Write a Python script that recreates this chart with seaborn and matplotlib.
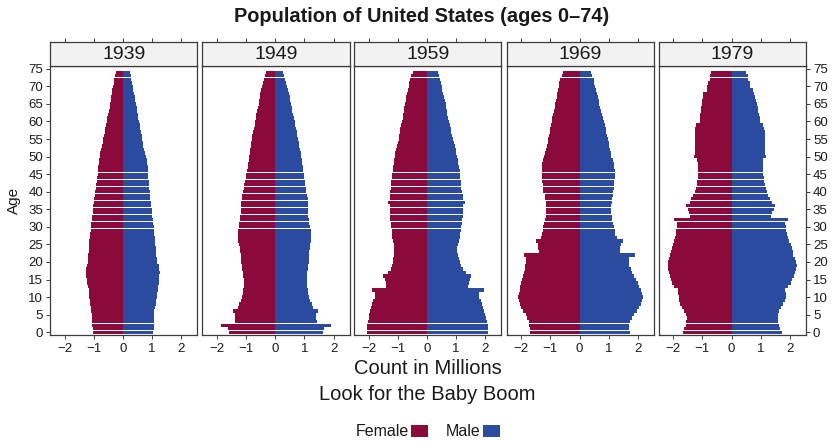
import matplotlib
matplotlib.use("Agg")
import matplotlib.pyplot as plt
import pandas as pd
import seaborn as sns
from matplotlib.patches import Patch

# ---- data: population in millions by single year of age (0-74) ----
years = [1939, 1949, 1959, 1969, 1979]
ages = list(range(75))

female_1939 = [1.01, 1.04, 1.06, 1.07, 1.06, 1.07, 1.09, 1.10, 1.12, 1.14,
               1.15, 1.17, 1.18, 1.20, 1.22, 1.24, 1.25, 1.26, 1.25, 1.24,
               1.21, 1.20, 1.19, 1.18, 1.17, 1.17, 1.15, 1.14, 1.13, 1.11,
               1.10, 1.08, 1.07, 1.05, 1.04, 1.03, 1.01, 0.99, 0.98, 0.96,
               0.95, 0.93, 0.91, 0.90, 0.88, 0.87, 0.86, 0.85, 0.83, 0.82,
               0.80, 0.77, 0.74, 0.72, 0.69, 0.67, 0.65, 0.62, 0.60, 0.57,
               0.55, 0.53, 0.51, 0.48, 0.46, 0.44, 0.42, 0.40, 0.38, 0.36,
               0.34, 0.31, 0.29, 0.26, 0.23]
male_1939 = [1.03, 1.06, 1.08, 1.07, 1.06, 1.06, 1.08, 1.10, 1.12, 1.14,
             1.17, 1.18, 1.20, 1.21, 1.22, 1.23, 1.25, 1.26, 1.25, 1.22,
             1.17, 1.16, 1.15, 1.14, 1.12, 1.11, 1.10, 1.09, 1.08, 1.07,
             1.06, 1.04, 1.03, 1.01, 1.00, 0.98, 0.97, 0.96, 0.94, 0.93,
             0.92, 0.91, 0.90, 0.89, 0.87, 0.86, 0.86, 0.85, 0.84, 0.82,
             0.80, 0.76, 0.73, 0.70, 0.68, 0.66, 0.64, 0.61, 0.59, 0.57,
             0.56, 0.53, 0.51, 0.49, 0.47, 0.46, 0.43, 0.41, 0.39, 0.36,
             0.34, 0.31, 0.29, 0.26, 0.23]

female_1949 = [1.59, 1.63, 1.86, 1.39, 1.38, 1.37, 1.44, 1.27, 1.24, 1.17,
               1.14, 1.12, 1.09, 1.08, 1.08, 1.08, 1.10, 1.12, 1.14, 1.15,
               1.16, 1.17, 1.18, 1.20, 1.22, 1.24, 1.27, 1.29, 1.28, 1.26,
               1.24, 1.23, 1.22, 1.20, 1.19, 1.18, 1.18, 1.17, 1.15, 1.13,
               1.10, 1.08, 1.06, 1.03, 1.01, 0.99, 0.97, 0.95, 0.93, 0.91,
               0.90, 0.88, 0.86, 0.84, 0.82, 0.80, 0.78, 0.76, 0.73, 0.71,
               0.69, 0.67, 0.65, 0.62, 0.60, 0.57, 0.55, 0.53, 0.51, 0.48,
               0.46, 0.43, 0.40, 0.36, 0.32]
male_1949 = [1.63, 1.67, 1.90, 1.42, 1.41, 1.40, 1.48, 1.30, 1.26, 1.20,
             1.16, 1.13, 1.11, 1.09, 1.08, 1.08, 1.09, 1.10, 1.12, 1.14,
             1.15, 1.16, 1.16, 1.17, 1.18, 1.20, 1.22, 1.23, 1.23, 1.21,
             1.18, 1.17, 1.15, 1.14, 1.13, 1.13, 1.13, 1.13, 1.11, 1.09,
             1.07, 1.05, 1.03, 1.01, 0.99, 0.98, 0.96, 0.94, 0.92, 0.91,
             0.90, 0.88, 0.85, 0.83, 0.80, 0.78, 0.76, 0.74, 0.71, 0.69,
             0.67, 0.64, 0.62, 0.59, 0.57, 0.54, 0.52, 0.49, 0.47, 0.44,
             0.40, 0.38, 0.35, 0.31, 0.28]

female_1959 = [2.05, 2.05, 2.04, 2.02, 2.00, 1.98, 1.95, 1.92, 1.88, 1.84,
               1.78, 1.77, 1.90, 1.41, 1.42, 1.44, 1.49, 1.32, 1.23, 1.21,
               1.16, 1.15, 1.14, 1.14, 1.13, 1.14, 1.17, 1.19, 1.20, 1.21,
               1.22, 1.24, 1.25, 1.26, 1.27, 1.28, 1.28, 1.34, 1.28, 1.27,
               1.25, 1.24, 1.23, 1.22, 1.20, 1.19, 1.18, 1.16, 1.14, 1.12,
               1.10, 1.08, 1.05, 1.02, 0.99, 0.97, 0.95, 0.93, 0.91, 0.89,
               0.86, 0.83, 0.81, 0.79, 0.77, 0.75, 0.73, 0.71, 0.69, 0.66,
               0.63, 0.60, 0.57, 0.53, 0.47]
male_1959 = [2.10, 2.10, 2.08, 2.05, 2.02, 2.00, 1.97, 1.93, 1.88, 1.84,
             1.80, 1.79, 1.94, 1.42, 1.44, 1.46, 1.51, 1.33, 1.22, 1.18,
             1.12, 1.09, 1.06, 1.03, 1.04, 1.07, 1.10, 1.13, 1.15, 1.17,
             1.18, 1.19, 1.21, 1.22, 1.23, 1.24, 1.24, 1.31, 1.25, 1.22,
             1.19, 1.18, 1.17, 1.16, 1.14, 1.13, 1.12, 1.10, 1.08, 1.06,
             1.04, 1.01, 0.98, 0.95, 0.92, 0.90, 0.87, 0.84, 0.81, 0.78,
             0.75, 0.73, 0.70, 0.68, 0.66, 0.64, 0.61, 0.58, 0.56, 0.53,
             0.50, 0.47, 0.45, 0.42, 0.37]

female_1969 = [1.70, 1.71, 1.72, 1.75, 1.80, 1.85, 1.95, 2.00, 2.04, 2.08,
               2.10, 2.09, 2.06, 2.03, 2.00, 1.98, 1.95, 1.92, 1.88, 1.86,
               1.84, 1.83, 1.91, 1.40, 1.41, 1.44, 1.49, 1.33, 1.28, 1.26,
               1.24, 1.21, 1.19, 1.16, 1.15, 1.15, 1.14, 1.15, 1.17, 1.20,
               1.24, 1.26, 1.27, 1.28, 1.29, 1.29, 1.29, 1.29, 1.28, 1.25,
               1.21, 1.19, 1.16, 1.13, 1.10, 1.07, 1.05, 1.03, 1.00, 0.97,
               0.95, 0.93, 0.91, 0.88, 0.86, 0.84, 0.81, 0.79, 0.77, 0.74,
               0.72, 0.69, 0.66, 0.62, 0.57]
male_1969 = [1.73, 1.71, 1.69, 1.72, 1.78, 1.85, 1.96, 2.03, 2.09, 2.14,
             2.18, 2.15, 2.11, 2.05, 2.00, 1.95, 1.88, 1.81, 1.75, 1.71,
             1.69, 1.70, 1.90, 1.37, 1.39, 1.43, 1.49, 1.28, 1.23, 1.20,
             1.17, 1.14, 1.12, 1.10, 1.09, 1.09, 1.09, 1.10, 1.12, 1.14,
             1.15, 1.17, 1.18, 1.19, 1.20, 1.20, 1.20, 1.19, 1.17, 1.13,
             1.09, 1.07, 1.05, 1.02, 1.00, 0.98, 0.95, 0.92, 0.89, 0.86,
             0.83, 0.80, 0.77, 0.74, 0.71, 0.68, 0.65, 0.62, 0.60, 0.57,
             0.54, 0.51, 0.48, 0.44, 0.40]

female_1979 = [1.67, 1.62, 1.58, 1.55, 1.54, 1.57, 1.62, 1.69, 1.76, 1.80,
               1.82, 1.83, 1.84, 1.96, 2.03, 2.08, 2.12, 2.15, 2.17, 2.19,
               2.18, 2.14, 2.10, 2.07, 2.05, 2.02, 1.98, 1.95, 1.91, 1.89,
               1.88, 1.87, 1.99, 1.43, 1.46, 1.49, 1.56, 1.44, 1.38, 1.32,
               1.27, 1.23, 1.20, 1.18, 1.16, 1.15, 1.15, 1.16, 1.15, 1.17,
               1.28, 1.24, 1.25, 1.25, 1.26, 1.25, 1.26, 1.25, 1.25, 1.23,
               1.10, 1.09, 1.08, 1.06, 1.04, 1.02, 1.01, 0.99, 0.97, 0.85,
               0.83, 0.82, 0.74, 0.73, 0.72]
male_1979 = [1.74, 1.67, 1.63, 1.60, 1.58, 1.60, 1.63, 1.68, 1.75, 1.83,
             1.86, 1.85, 1.83, 1.93, 2.02, 2.08, 2.13, 2.17, 2.20, 2.24,
             2.22, 2.17, 2.12, 2.09, 2.07, 2.03, 1.97, 1.93, 1.89, 1.87,
             1.85, 1.84, 1.93, 1.36, 1.40, 1.45, 1.50, 1.37, 1.31, 1.25,
             1.20, 1.17, 1.14, 1.11, 1.10, 1.09, 1.08, 1.08, 1.08, 1.09,
             1.17, 1.13, 1.14, 1.14, 1.15, 1.14, 1.14, 1.13, 1.12, 1.09,
             0.97, 0.96, 0.94, 0.92, 0.89, 0.86, 0.83, 0.80, 0.76, 0.74,
             0.63, 0.62, 0.57, 0.55, 0.49]

female = [female_1939, female_1949, female_1959, female_1969, female_1979]
male = [male_1939, male_1949, male_1959, male_1969, male_1979]

x_ticks = [-2, -1, 0, 1, 2]
x_tick_labels = ["\u22122", "\u22121", "0", "1", "2"]
age_ticks = list(range(0, 76, 5))

# ---- long table: females plotted to the left (negative counts) ----
rows = []
for yr, fvals, mvals in zip(years, female, male):
    for a, fv, mv in zip(ages, fvals, mvals):
        rows.append((yr, a, "Female", -fv))
        rows.append((yr, a, "Male", mv))
df = pd.DataFrame(rows, columns=["year", "age", "sex", "count"])

sns.set_theme(style="white")
plt.rcParams["font.family"] = ["Liberation Sans", "DejaVu Sans"]

FEMALE = "#8B0A3C"
MALE = "#2A4B9F"
FRAME = "#3C3C3C"
TEXT = "#1A1A1A"

W, H = 832, 441
fig = plt.figure(figsize=(W / 100, H / 100), dpi=100)


def fx(px):
    return px / W


def fy(py):
    return 1 - py / H


panel_left = [50, 202.3, 354, 506.7, 658.7]
panel_w = 147.3
strip_top, strip_bot, plot_bot = 42.3, 66.0, 335.0
xlim = (-2.5, 2.55)

for i, yr in enumerate(years):
    x0 = panel_left[i]
    ax = fig.add_axes([fx(x0), fy(plot_bot), panel_w / W,
                       (plot_bot - strip_bot) / H])
    sub = df[df["year"] == yr]
    sns.barplot(data=sub, x="count", y="age", hue="sex", orient="h",
                native_scale=True, dodge=False, width=0.94, saturation=1,
                palette={"Female": FEMALE, "Male": MALE},
                linewidth=0, errorbar=None, legend=False, ax=ax)
    ax.set_xlim(*xlim)
    ax.set_ylim(-0.8, 75.8)
    ax.set_xlabel("")
    ax.set_ylabel("")
    ax.set_xticks(x_ticks)
    ax.set_xticklabels(x_tick_labels)
    ax.set_yticks(age_ticks)
    ax.tick_params(axis="x", bottom=True, top=False, direction="out",
                   length=3, width=0.7, color=FRAME, pad=3,
                   labelsize=9.5, labelcolor=TEXT)
    left_on = i == 0
    right_on = i == len(years) - 1
    ax.tick_params(axis="y", left=left_on, labelleft=left_on,
                   right=right_on, labelright=right_on, direction="out",
                   length=3, width=0.7, color=FRAME, pad=2,
                   labelsize=9.5, labelcolor=TEXT)
    for sp in ax.spines.values():
        sp.set_color(FRAME)
        sp.set_linewidth(0.9)
    ax.grid(False)

    # strip with the year on top of each panel
    st = fig.add_axes([fx(x0), fy(strip_bot), panel_w / W,
                       (strip_bot - strip_top) / H])
    st.set_facecolor("#F2F2F2")
    st.set_xlim(*xlim)
    st.set_ylim(0, 1)
    st.set_xticks(x_ticks)
    st.set_yticks([])
    st.tick_params(axis="x", bottom=False, top=True, labelbottom=False,
                   labeltop=False, direction="out", length=3, width=0.7,
                   color=FRAME)
    for sp in st.spines.values():
        sp.set_color(FRAME)
        sp.set_linewidth(0.9)
    st.text(0.5, 0.47, str(yr), transform=st.transAxes, ha="center",
            va="center", fontsize=14, color=TEXT)

fig.text(fx(421.5), fy(16), "Population of United States (ages 0\u201374)",
         ha="center", va="center", fontsize=14.4, fontweight="bold",
         color=TEXT)
fig.text(fx(14), fy(200), "Age", rotation=90, ha="center", va="center",
         fontsize=11, color=TEXT)
fig.text(fx(427.7), fy(369), "Count in Millions", ha="center", va="center",
         fontsize=14.5, color=TEXT)
fig.text(fx(427.7), fy(394), "Look for the Baby Boom", ha="center",
         va="center", fontsize=14.5, color=TEXT)

handles = [Patch(facecolor=FEMALE, edgecolor="none", label="Female"),
           Patch(facecolor=MALE, edgecolor="none", label="Male")]
fig.legend(handles=handles, loc="center",
           bbox_to_anchor=(fx(427.8), fy(432)), ncol=2, frameon=False,
           markerfirst=False, fontsize=11.5, handlelength=1.05,
           handleheight=0.85, handletextpad=0.15, columnspacing=1.1,
           borderpad=0, labelcolor=TEXT)

fig.savefig("out.png", dpi=100)
